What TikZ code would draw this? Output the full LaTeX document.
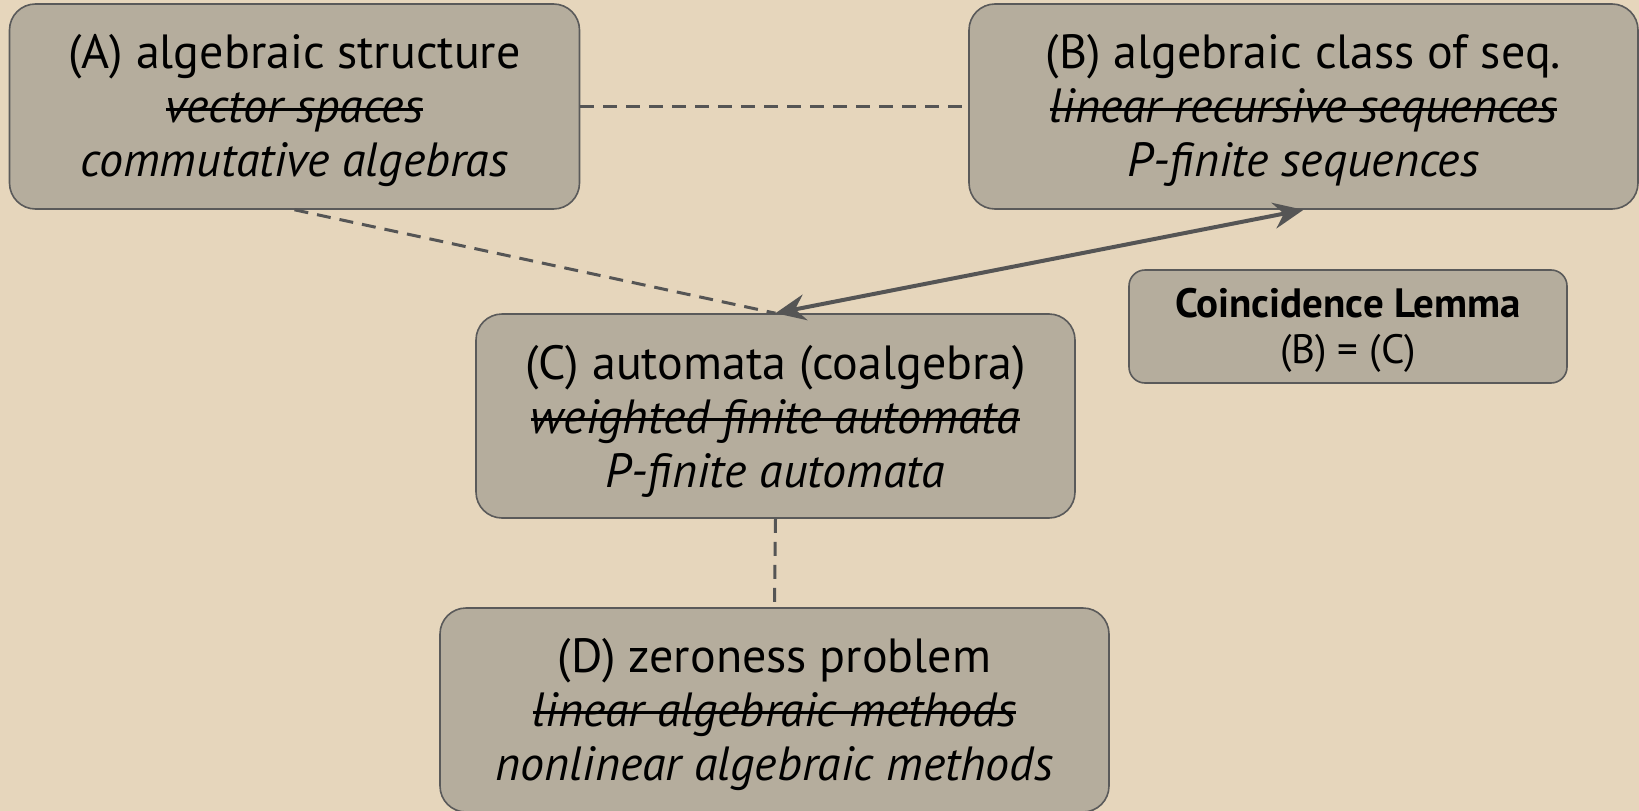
\documentclass[tikz,border=0pt]{standalone}
\usepackage{fontspec}
\setmainfont{PT Sans}
\usetikzlibrary{arrows.meta}
\definecolor{paper}{HTML}{E6D6BC}
\definecolor{boxfill}{HTML}{B5AD9D}
\definecolor{boxline}{HTML}{5A5A5A}
\definecolor{wire}{HTML}{555555}
% struck-through text: a rule laid over the boxed text
\newcommand{\struck}[1]{\begingroup\setbox0\hbox{#1}%
  \rlap{\rule[0.25em]{\wd0}{3pt}}\box0\endgroup}
\tikzset{
  card/.style={draw=boxline, line width=1.6pt, fill=boxfill, rounded corners=26pt,
    inner sep=0pt},
  smallcard/.style={card, rounded corners=16pt},
  topic/.style={align=center, inner sep=0pt, font=\fontsize{48}{54}\selectfont},
  lemma/.style={align=center, inner sep=0pt, font=\fontsize{41}{46}\selectfont},
  link/.style={draw=wire, line width=3pt, dash pattern=on 14pt off 9pt},
  both/.style={draw=wire, line width=4pt,
    {Stealth[length=30pt,width=26pt,inset=10pt]}-{Stealth[length=30pt,width=26pt,inset=10pt]}}
}
\begin{document}
\begin{tikzpicture}[x=1pt,y=-1pt]
  \fill[paper] (0,0) rectangle (1639,811);
  \useasboundingbox (0,0) rectangle (1639,811);

  % boxes
  \node[card, minimum width=570pt, minimum height=205pt] (A) at (294.5,106.5) {};
  \node[card, minimum width=669pt, minimum height=205pt] (B) at (1303.5,106.5) {};
  \node[card, minimum width=599pt, minimum height=204pt] (C) at (775.5,416) {};
  \node[card, minimum width=669pt, minimum height=204pt] (D) at (774.5,710) {};
  \node[smallcard, minimum width=438pt, minimum height=113pt] (L) at (1348,326.5) {};

  % box texts
  \node[topic] (At) at ([yshift=-4pt]A.center)
    {(A) algebraic structure\\ \struck{\itshape vector spaces}\\ \textit{commutative algebras}};
  \node[topic] (Bt) at ([yshift=-4pt]B.center)
    {(B) algebraic class of seq.\\ \struck{\itshape linear recursive sequences}\\ \textit{P-finite sequences}};
  \node[topic] (Ct) at ([yshift=-5pt]C.center)
    {(C) automata (coalgebra)\\ \struck{\itshape weighted finite automata}\\ \textit{P-finite automata}};
  \node[topic] (Dt) at ([yshift=-4pt]D.center)
    {(D) zeroness problem\\ \struck{\itshape linear algebraic methods}\\ \textit{nonlinear algebraic methods}};
  \node[lemma] (Lt) at ([yshift=-4pt]L.center)
    {\textbf{Coincidence Lemma}\\ (B) = (C)};

  % connectors
  \draw[link] (A.east) -- (B.west);
  \draw[link] (A.south) -- (C.north);
  \draw[link] (C.south) -- (D.north);
  \draw[both] (C.north) -- (B.south);
\end{tikzpicture}
\end{document}
